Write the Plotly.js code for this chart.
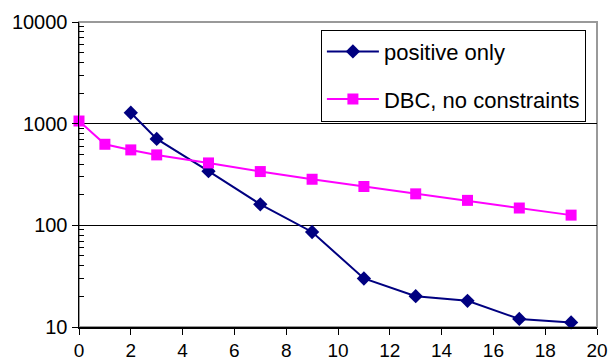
<!DOCTYPE html>
<html>
<head>
<meta charset="utf-8">
<script src="https://cdn.plot.ly/plotly-3.0.1.min.js"></script>
<style>html,body{margin:0;padding:0;background:#fff;}#chart{width:609px;height:363px;}</style>
</head>
<body>
<div id="chart"></div>
<script>
var posX = [2, 3, 5, 7, 9, 11, 13, 15, 17, 19];
var posY = [1280, 708, 341, 161, 86, 30, 20.1, 18.1, 12.0, 11.1];
var dbcX = [0, 1, 2, 3, 5, 7, 9, 11, 13, 15, 17, 19];
var dbcY = [1062, 627, 552, 493, 411, 338, 284, 241, 204, 176, 148, 126];
var posName = "positive only";
var dbcName = "DBC, no constraints";
var yTickVals = [10, 100, 1000, 10000];
var yTickText = ["10", "100", "1000", "10000"];
var xTickVals = [0, 2, 4, 6, 8, 10, 12, 14, 16, 18, 20];

var minorVals = [];
[10, 100, 1000].forEach(function (d) { for (var k = 2; k <= 9; k++) minorVals.push(k * d); });

var font = "Liberation Sans, Arial, sans-serif";

var traces = [
  {
    x: posX, y: posY, name: posName, type: "scatter", mode: "lines+markers",
    legendgroup: "a", cliponaxis: false,
    line: {color: "#000080", width: 2},
    marker: {symbol: "diamond", size: 11, color: "#000080"}
  },
  {
    x: dbcX, y: dbcY, name: dbcName, type: "scatter", mode: "lines+markers",
    legendgroup: "b", cliponaxis: false,
    line: {color: "#FF00FF", width: 2},
    marker: {symbol: "square", size: 11, color: "#FF00FF"}
  }
];

var layout = {
  width: 609, height: 363,
  margin: {l: 79, r: 12, t: 22, b: 36},
  paper_bgcolor: "#ffffff", plot_bgcolor: "#ffffff",
  font: {family: font, size: 20, color: "#000"},
  showlegend: true,
  legend: {
    x: 0.467, y: 0.975, xanchor: "left", yanchor: "top",
    bordercolor: "#000", borderwidth: 1, bgcolor: "#fff",
    font: {family: font, size: 22, color: "#000"},
    traceorder: "grouped", tracegroupgap: 16, itemwidth: 52
  },
  xaxis: {
    range: [0, 20], tickmode: "array", tickvals: xTickVals,
    ticks: "outside", ticklen: 6, tickcolor: "#000", tickwidth: 1,
    showline: true, linecolor: "#000", linewidth: 1.5,
    showgrid: false, zeroline: false,
    tickfont: {family: font, size: 19, color: "#000"}
  },
  yaxis: {
    type: "log", range: [1, 4],
    tickmode: "array", tickvals: yTickVals, ticktext: yTickText,
    ticks: "outside", ticklen: 6, tickcolor: "#000", tickwidth: 1,
    showline: true, linecolor: "#000", linewidth: 1.5,
    showgrid: true, gridcolor: "#000", gridwidth: 1,
    zeroline: false,
    minor: {tickmode: "array", tickvals: minorVals, ticks: "inside", ticklen: 5, tickcolor: "#000", showgrid: false},
    tickfont: {family: font, size: 20, color: "#000"}
  },
  shapes: [
    {type: "rect", xref: "paper", yref: "paper", x0: 0, x1: 1, y0: 0, y1: 1,
     line: {color: "#999999", width: 2}, layer: "below"}
  ]
};

Plotly.newPlot("chart", traces, layout, {staticPlot: true, displayModeBar: false});
</script>
</body>
</html>
